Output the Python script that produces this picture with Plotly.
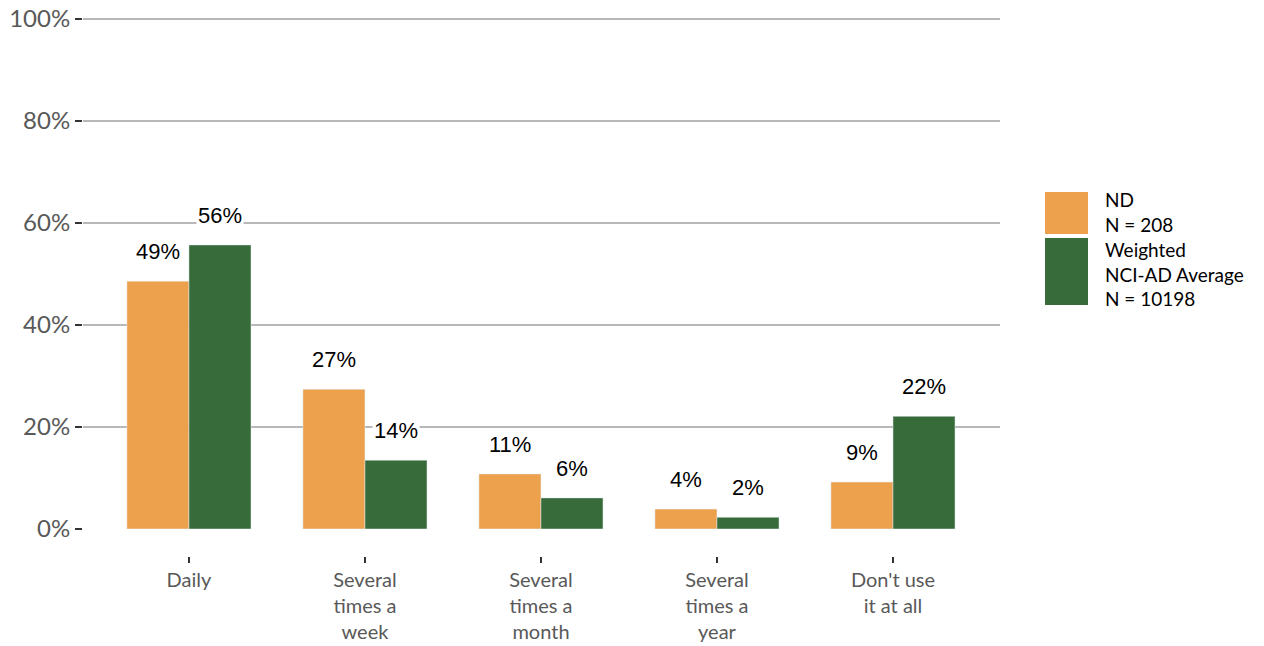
import plotly.graph_objects as go

categories = ["Daily", "Several<br>times a<br>week", "Several<br>times a<br>month",
              "Several<br>times a<br>year", "Don't use<br>it at all"]
nd_values = [48.6, 27.4, 10.8, 3.9, 9.2]
nci_values = [55.7, 13.5, 6.1, 2.3, 22.1]
nd_labels = ["49%", "27%", "11%", "4%", "9%"]
nci_labels = ["56%", "14%", "6%", "2%", "22%"]
series_names = ["ND<br>N = 208", "Weighted<br>NCI-AD Average<br>N = 10198"]
y_ticks = [0, 20, 40, 60, 80, 100]
y_ticktext = ["0%", "20%", "40%", "60%", "80%", "100%"]

ORANGE = "#EDA14D"
GREEN = "#386B3A"
GREY_TXT = "#595959"

W, H = 1264, 646
M_L, M_R, M_T, M_B = 83, 264, 18, 70


def px2paper(x, y):
    # pixel -> paper coords for the plot area
    pw = W - M_L - M_R
    ph = H - M_T - M_B
    return (x - M_L) / pw, (H - M_B - y) / ph


fig = go.Figure()
fig.add_trace(go.Bar(x=categories, y=nd_values, marker_color=ORANGE, name="ND",
                     showlegend=False))
fig.add_trace(go.Bar(x=categories, y=nci_values, marker_color=GREEN, name="NCI",
                     showlegend=False))

# data labels, white boxes breaking the gridlines
for vals, labs, shift in [(nd_values, nd_labels, -31), (nci_values, nci_labels, 31)]:
    for c, v, t in zip(categories, vals, labs):
        fig.add_annotation(x=c, y=v, text=t, showarrow=False, xshift=shift,
                           yanchor="bottom", yshift=15, bgcolor="white",
                           font=dict(family="Liberation Sans, Arial", size=22, color="black"))

# legend drawn by hand (tall colour blocks)
for (x0, y0, x1, y1), col in [((1045, 192, 1088, 234), ORANGE), ((1045, 238, 1088, 305), GREEN)]:
    a0, b0 = px2paper(x0, y1)
    a1, b1 = px2paper(x1, y0)
    fig.add_shape(type="rect", xref="paper", yref="paper", x0=a0, y0=b0, x1=a1, y1=b1,
                  fillcolor=col, line_width=0, layer="above")
a, b = px2paper(1104, 187)
fig.add_annotation(xref="paper", yref="paper", x=a, y=b, text=series_names[0], showarrow=False,
                   xanchor="left", yanchor="top", align="left", borderpad=0,
                   font=dict(family="Lato, Noto Sans", size=19, color="black"))
a, b = px2paper(1104, 311)
fig.add_annotation(xref="paper", yref="paper", x=a, y=b, text=series_names[1], showarrow=False,
                   xanchor="left", yanchor="bottom", align="left", borderpad=0,
                   font=dict(family="Lato, Noto Sans", size=19, color="black"))

y0_frac = (H - M_B - 529) / (H - M_T - M_B)
xaxis_pos = (H - M_B - 556) / (H - M_T - M_B)

fig.update_layout(
    width=W, height=H,
    margin=dict(l=M_L, r=M_R, t=M_T, b=M_B, autoexpand=False),
    plot_bgcolor="white", paper_bgcolor="white",
    barmode="group", bargap=0.295, bargroupgap=0,
    showlegend=False,
    font=dict(family="Lato, Noto Sans", color=GREY_TXT),
    xaxis=dict(range=[-0.602, 4.608], anchor="free", position=xaxis_pos,
               showgrid=False, showline=False, zeroline=False, automargin=False,
               ticks="outside", ticklen=6, tickwidth=2, tickcolor="#333333",
               tickfont=dict(size=20, color=GREY_TXT)),
    yaxis=dict(range=[0, 100.2], domain=[y0_frac, 1], automargin=False,
               tickmode="array", tickvals=y_ticks, ticktext=y_ticktext,
               showgrid=True, gridcolor="#B8B8B8", gridwidth=2,
               zeroline=False, showline=False,
               ticks="outside", ticklen=7, tickwidth=2, tickcolor="#333333",
               tickfont=dict(size=24, color=GREY_TXT)),
)

fig.write_html("out.html", config={"displayModeBar": False},
               post_script="document.body.style.margin='0';")
